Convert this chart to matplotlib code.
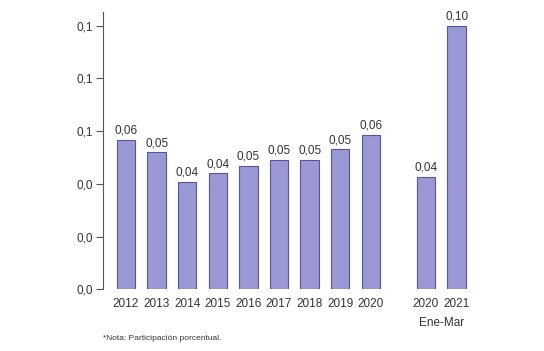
import matplotlib
matplotlib.use("Agg")
import matplotlib.pyplot as plt
from matplotlib.ticker import FuncFormatter

plt.rcParams['font.family'] = ['Liberation Sans', 'DejaVu Sans']

categories = ["2012", "2013", "2014", "2015", "2016", "2017", "2018", "2019", "2020", "2020", "2021"]
values = [0.0567, 0.0520, 0.0407, 0.0440, 0.0469, 0.0490, 0.0490, 0.0531, 0.0586, 0.0426, 0.1000]
positions = [0, 1, 2, 3, 4, 5, 6, 7, 8, 9.8, 10.8]
yticks = [0.0, 0.02, 0.04, 0.06, 0.08, 0.10]
period_label = "Ene-Mar"
note = "*Nota: Participación porcentual."

fig = plt.figure(figsize=(5.44, 3.51), dpi=100)
ax = fig.add_axes([0.1888, 0.1758, 0.69, 0.790])

bar_color = "#9b98d6"
edge_color = "#56569a"
text_color = "#333333"

ax.bar(positions, values, width=0.6, color=bar_color, edgecolor=edge_color, linewidth=0.8)
for x, v in zip(positions, values):
    ax.text(x, v + 0.0012, f"{v:.2f}".replace(".", ","), ha="center", va="bottom",
            fontsize=8.5, color=text_color)

ax.set_xlim(-0.76, 11.5)
ax.set_ylim(0, 0.1052)
ax.set_yticks(yticks)
ax.yaxis.set_major_formatter(FuncFormatter(lambda v, p: f"{v:.1f}".replace(".", ",")))
ax.set_xticks(positions)
ax.set_xticklabels(categories)
ax.tick_params(axis="x", length=0, pad=6, labelsize=8.5, labelcolor=text_color)
ax.tick_params(axis="y", length=5, width=0.8, color="#555555", pad=2, labelsize=8.5, labelcolor=text_color)

for s in ["top", "right", "bottom"]:
    ax.spines[s].set_visible(False)
ax.spines["left"].set_color("#555555")
ax.spines["left"].set_linewidth(0.8)

ax.text((positions[9] + positions[10]) / 2, -0.0128, period_label, ha="center", va="center",
        fontsize=8.5, color=text_color, transform=ax.transData, clip_on=False)

fig.text(103 / 544, 1 - 339 / 351, note, ha="left", va="center", fontsize=6, color=text_color)

fig.savefig("out.png", dpi=100, facecolor="white")
